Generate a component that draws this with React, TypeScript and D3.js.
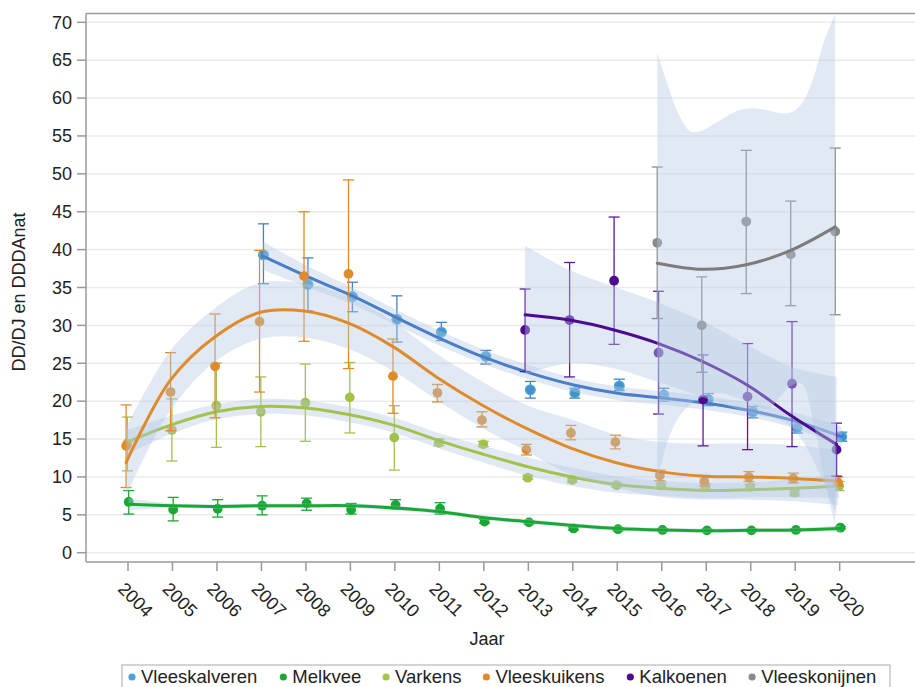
import React, { useMemo } from 'react';
import * as d3 from 'd3';

// categories
const seriesNames = ['Vleeskalveren', 'Melkvee', 'Varkens', 'Vleeskuikens', 'Kalkoenen', 'Vleeskonijnen'];
const tickYears = [2004, 2005, 2006, 2007, 2008, 2009, 2010, 2011, 2012, 2013, 2014, 2015, 2016, 2017, 2018, 2019, 2020];
const yTicks = [0, 5, 10, 15, 20, 25, 30, 35, 40, 45, 50, 55, 60, 65, 70];

const allYears = [2004, 2005, 2006, 2007, 2008, 2009, 2010, 2011, 2012, 2013, 2014, 2015, 2016, 2017, 2018, 2019, 2020];

// Vleeskalveren
const kalverenYears = [2007, 2008, 2009, 2010, 2011, 2012, 2013, 2014, 2015, 2016, 2017, 2018, 2019, 2020];
const kalverenValue = [39.3, 35.4, 33.8, 30.8, 29.1, 25.9, 21.5, 21.1, 22.0, 20.8, 20.2, 18.6, 16.5, 15.3];
const kalverenLow = [35.5, 31.9, 31.8, 27.8, 28.0, 24.9, 20.4, 20.4, 21.4, 20.0, 19.4, 17.8, 15.8, 14.7];
const kalverenHigh = [43.4, 38.9, 35.7, 33.9, 30.4, 26.7, 22.6, 21.7, 22.9, 21.7, 21.0, 19.3, 17.3, 15.9];
const kalverenFit = [39.1, 36.4, 33.9, 31.0, 28.2, 25.7, 23.7, 22.1, 21.0, 20.4, 19.7, 18.7, 17.3, 15.3];
const kalverenBandLow = [37.3, 35.0, 32.8, 30.0, 27.2, 24.8, 22.8, 21.2, 20.1, 19.5, 18.8, 17.8, 16.3, 14.0];
const kalverenBandHigh = [41.0, 37.8, 35.0, 32.0, 29.2, 26.7, 24.7, 23.0, 21.9, 21.3, 20.6, 19.7, 18.4, 16.6];

// Melkvee
const melkveeValue = [6.7, 5.7, 5.8, 6.2, 6.5, 5.7, 6.3, 5.8, 4.1, 4.0, 3.2, 3.1, 3.0, 2.95, 2.95, 3.0, 3.3];
const melkveeLow = [5.1, 4.2, 4.7, 5.0, 5.6, 5.1, 5.8, 5.1, 3.9, 3.8, 3.0, 2.9, 2.85, 2.8, 2.8, 2.85, 3.15];
const melkveeHigh = [8.2, 7.3, 7.0, 7.5, 7.2, 6.5, 7.0, 6.6, 4.4, 4.2, 3.4, 3.3, 3.15, 3.1, 3.1, 3.15, 3.45];
const melkveeFit = [6.4, 6.2, 6.1, 6.2, 6.2, 6.2, 5.9, 5.4, 4.6, 4.1, 3.6, 3.2, 3.0, 2.9, 2.95, 3.0, 3.2];
const melkveeBandLow = [5.6, 5.9, 5.8, 5.9, 5.9, 5.9, 5.6, 5.1, 4.3, 3.8, 3.3, 2.9, 2.7, 2.6, 2.65, 2.7, 2.8];
const melkveeBandHigh = [7.2, 6.5, 6.4, 6.5, 6.5, 6.5, 6.2, 5.7, 4.9, 4.4, 3.9, 3.5, 3.3, 3.2, 3.25, 3.3, 3.6];

// Varkens
const varkensValue = [14.4, 16.2, 19.4, 18.6, 19.8, 20.5, 15.2, 14.5, 14.3, 9.9, 9.6, 8.9, 8.85, 8.7, 8.7, 7.9, 8.8];
const varkensLow = [10.8, 12.1, 13.9, 14.0, 14.7, 15.8, 10.9, 14.1, 14.0, 9.7, 9.3, 8.7, 8.5, 8.4, 8.4, 7.5, 8.2];
const varkensHigh = [17.9, 20.3, 25.0, 23.2, 24.9, 25.1, 19.4, 15.0, 14.7, 10.2, 9.9, 9.2, 9.2, 9.1, 9.0, 8.3, 9.4];
const varkensFit = [14.6, 16.9, 18.6, 19.3, 19.1, 18.2, 16.8, 14.8, 13.0, 11.35, 10.0, 9.0, 8.5, 8.2, 8.3, 8.5, 8.8];
const varkensBandLow = [13.0, 15.7, 17.6, 18.3, 18.1, 17.2, 15.8, 13.8, 11.9, 10.15, 8.8, 7.9, 7.5, 7.2, 7.3, 7.3, 7.2];
const varkensBandHigh = [16.2, 18.1, 19.6, 20.3, 20.1, 19.2, 17.8, 15.8, 14.1, 12.55, 11.2, 10.1, 9.5, 9.2, 9.3, 9.7, 10.4];

// Vleeskuikens
const kuikensValue = [14.1, 21.2, 24.6, 30.5, 36.5, 36.8, 23.3, 21.1, 17.5, 13.6, 15.8, 14.6, 10.2, 9.4, 10.0, 9.8, 9.3];
const kuikensLow = [8.6, 16.1, 17.8, 21.2, 27.9, 24.3, 18.4, 19.9, 16.6, 12.9, 14.9, 13.7, 9.5, 8.8, 9.4, 9.2, 8.8];
const kuikensHigh = [19.5, 26.4, 31.5, 39.9, 45.0, 49.2, 28.2, 22.2, 18.6, 14.3, 16.8, 15.5, 10.9, 10.2, 10.7, 10.5, 10.0];
const kuikensFit = [11.9, 22.8, 28.5, 31.7, 31.9, 30.3, 27.2, 23.1, 19.5, 16.4, 13.8, 11.9, 10.7, 10.1, 10.0, 9.8, 9.45];
const kuikensBandLow = [7.5, 18.8, 25.2, 28.2, 28.4, 26.9, 24.0, 20.1, 16.5, 13.4, 10.3, 8.6, 7.4, 7.0, 7.0, 6.8, 6.3];
const kuikensBandHigh = [16.5, 26.7, 32.3, 35.6, 35.5, 33.8, 30.5, 26.2, 22.6, 19.5, 17.6, 15.6, 14.6, 14.4, 14.4, 14.2, 13.5];

// Kalkoenen
const kalkoenenYears = [2013, 2014, 2015, 2016, 2017, 2018, 2019, 2020];
const kalkoenenValue = [29.4, 30.7, 35.9, 26.4, 20.2, 20.6, 22.3, 13.6];
const kalkoenenLow = [23.9, 23.2, 27.5, 18.3, 14.1, 13.6, 14.0, 10.1];
const kalkoenenHigh = [34.8, 38.3, 44.3, 34.5, 26.1, 27.6, 30.5, 17.1];
const kalkoenenFit = [31.4, 30.7, 29.4, 27.6, 25.2, 22.1, 18.0, 14.3];
const kalkoenenBandLow = [23.5, 25.0, 24.3, 22.5, 20.5, 18.5, 16.5, 5.0];
const kalkoenenBandHigh = [40.5, 37.3, 35.1, 33.0, 30.5, 27.4, 24.5, 23.2];

// Vleeskonijnen
const konijnenYears = [2016, 2017, 2018, 2019, 2020];
const konijnenValue = [40.9, 30.0, 43.7, 39.4, 42.4];
const konijnenLow = [30.9, 23.8, 34.2, 32.6, 31.4];
const konijnenHigh = [50.9, 36.4, 53.1, 46.4, 53.4];
const konijnenFit = [38.2, 37.4, 38.0, 39.9, 43.0];
const konijnenBandYears = [2016, 2016.25, 2016.5, 2016.75, 2017, 2017.25, 2017.5, 2017.75, 2018, 2018.25, 2018.5, 2018.75, 2019, 2019.25, 2019.5, 2019.75, 2020];
const konijnenBandLow = [9.5, 15, 18, 19.6, 20.5, 21, 21, 20.5, 20, 19.3, 19, 20.5, 22, 22.3, 17.5, 10, 3.5];
const konijnenBandHigh = [66, 61.5, 57.6, 55.6, 55.7, 56.5, 57.4, 58.2, 58.6, 58.6, 58.4, 58.0, 58.1, 59.3, 62.5, 67.5, 71];

const colors: Record<string, { line: string; point: string; ring: string; err: string; legend: string }> = {
	Vleeskalveren: { line: '#4a7ec8', point: '#4690d2', ring: '#45b0c8', err: '#4a7ec8', legend: '#4f9fd8' },
	Melkvee: { line: '#1aa834', point: '#1aa834', ring: 'none', err: '#1aa834', legend: '#1aa834' },
	Varkens: { line: '#a3c24a', point: '#a3c24a', ring: 'none', err: '#a3c24a', legend: '#a5c44a' },
	Vleeskuikens: { line: '#e08b2b', point: '#e08b2b', ring: 'none', err: '#e08b2b', legend: '#e08b2b' },
	Kalkoenen: { line: '#4d0c8f', point: '#4d0c8f', ring: 'none', err: '#5a1a9a', legend: '#4d0c8f' },
	Vleeskonijnen: { line: '#7c7c7c', point: '#8a8a8a', ring: 'none', err: '#888888', legend: '#8a8a8a' },
};

const series = [
	{ name: 'Vleeskalveren', years: kalverenYears, value: kalverenValue, low: kalverenLow, high: kalverenHigh, fit: kalverenFit, bandYears: kalverenYears, bandLow: kalverenBandLow, bandHigh: kalverenBandHigh },
	{ name: 'Melkvee', years: allYears, value: melkveeValue, low: melkveeLow, high: melkveeHigh, fit: melkveeFit, bandYears: allYears, bandLow: melkveeBandLow, bandHigh: melkveeBandHigh },
	{ name: 'Varkens', years: allYears, value: varkensValue, low: varkensLow, high: varkensHigh, fit: varkensFit, bandYears: allYears, bandLow: varkensBandLow, bandHigh: varkensBandHigh },
	{ name: 'Vleeskuikens', years: allYears, value: kuikensValue, low: kuikensLow, high: kuikensHigh, fit: kuikensFit, bandYears: allYears, bandLow: kuikensBandLow, bandHigh: kuikensBandHigh },
	{ name: 'Kalkoenen', years: kalkoenenYears, value: kalkoenenValue, low: kalkoenenLow, high: kalkoenenHigh, fit: kalkoenenFit, bandYears: kalkoenenYears, bandLow: kalkoenenBandLow, bandHigh: kalkoenenBandHigh },
	{ name: 'Vleeskonijnen', years: konijnenYears, value: konijnenValue, low: konijnenLow, high: konijnenHigh, fit: konijnenFit, bandYears: konijnenBandYears, bandLow: konijnenBandLow, bandHigh: konijnenBandHigh },
];

const W = 915;
const H = 687;
const FONT = "'Liberation Sans', Arial, sans-serif";
const left = 86, top = 13.5, bottom = 562, right = 920;
const LEGEND_FONT = 18.5;

const App: React.FC = () => {
	const x = d3.scaleLinear().domain([2004, 2020]).range([128, 839.7]);
	const y = d3.scaleLinear().domain([0, 70]).range([552.7, 22.3]);
	const dodge = d3.scalePoint<string>().domain(seriesNames).range([2, -4.5]);

	// legend entries placed one after the other, using measured text widths
	const legendItems = useMemo(() => {
		const ctx = document.createElement('canvas').getContext('2d')!;
		ctx.font = `${LEGEND_FONT}px ${FONT}`;
		let cx = 132;
		return seriesNames.map((n) => {
			const item = { name: n, cx };
			cx += 9 + ctx.measureText(n).width * (19 / LEGEND_FONT) + 23;
			return item;
		});
	}, []);

	const band = s => {
		const data = s.bandYears.map((yr, i) => ({ yr, lo: s.bandLow[i], hi: s.bandHigh[i] }));
		const off = dodge(s.name) ?? 0;
		return d3.area<any>()
			.x(d => x(d.yr) + off)
			.y0(d => y(d.lo))
			.y1(d => y(d.hi))
			.curve(d3.curveCatmullRom)(data) ?? '';
	};

	const fitLine = s => {
		const off = dodge(s.name) ?? 0;
		return d3.line<number>()
			.x((_, i) => x(s.years[i]) + off)
			.y(d => y(d))
			.curve(d3.curveCatmullRom)(s.fit) ?? '';
	};

	return (
		<svg width={W} height={H} style={{ position: 'absolute', left: 0, top: 0, background: '#fff' }} fontFamily={FONT}>
			{/* grid */}
			{yTicks.map(t => (
				<line key={'g' + t} x1={left} x2={right} y1={y(t)} y2={y(t)} stroke="#ebebeb" strokeWidth={1.5} />
			))}
			{/* frame */}
			<line x1={left} x2={right} y1={top} y2={top} stroke="#9a9a9a" strokeWidth={1.5} />
			<line x1={left} x2={right} y1={bottom} y2={bottom} stroke="#9a9a9a" strokeWidth={1.5} />
			<line x1={left} x2={left} y1={top} y2={bottom} stroke="#9a9a9a" strokeWidth={1.5} />

			{/* y axis */}
			{yTicks.map(t => (
				<g key={'y' + t}>
					<line x1={77} x2={left} y1={y(t)} y2={y(t)} stroke="#9a9a9a" strokeWidth={1.5} />
					<text x={72} y={y(t)} dy="0.35em" textAnchor="end" fontSize={18} fill="#222">{t}</text>
				</g>
			))}
			{/* x axis */}
			{tickYears.map(t => (
				<g key={'x' + t}>
					<line x1={x(t)} x2={x(t)} y1={bottom} y2={571} stroke="#9a9a9a" strokeWidth={1.5} />
					<text transform={`translate(${x(t) - 11},590) rotate(45)`} fontSize={18} fill="#222">{t}</text>
				</g>
			))}
			<text x={487} y={645} textAnchor="middle" fontSize={18} fill="#222">Jaar</text>
			<text transform="translate(25,292) rotate(-90)" textAnchor="middle" fontSize={18} fill="#222">DD/DJ en DDDAnat</text>

			{/* series: error bars and points, then the confidence band, then the fitted curve */}
			{series.map(s => {
				const c = colors[s.name];
				const off = dodge(s.name) ?? 0;
				return (
					<g key={s.name}>
						{s.years.map((yr, i) => {
							const px = x(yr) + off;
							return (
								<g key={yr}>
									<line x1={px} x2={px} y1={y(s.low[i])} y2={y(s.high[i])} stroke={c.err} strokeWidth={1.3} />
									<line x1={px - 5.5} x2={px + 5.5} y1={y(s.low[i])} y2={y(s.low[i])} stroke={c.err} strokeWidth={1.3} />
									<line x1={px - 5.5} x2={px + 5.5} y1={y(s.high[i])} y2={y(s.high[i])} stroke={c.err} strokeWidth={1.3} />
									<circle cx={px} cy={y(s.value[i])} r={4.9} fill={c.point} stroke={c.ring} strokeWidth={1.2} />
								</g>
							);
						})}
						<path d={band(s)} fill="rgb(180,200,228)" fillOpacity={0.4} />
						<path d={fitLine(s)} fill="none" stroke={c.line} strokeWidth={3} strokeLinecap="round" />
					</g>
				);
			})}

			{/* legend */}
			<rect x={122} y={665} width={768} height={40} fill="#fff" stroke="#aaaaaa" strokeWidth={1} />
			{legendItems.map(it => (
				<g key={it.name}>
					<circle cx={it.cx} cy={677} r={3.6} fill={colors[it.name].legend} />
					<text x={it.cx + 9} y={682.5} fontSize={LEGEND_FONT} fill="#222">{it.name}</text>
				</g>
			))}
		</svg>
	);
};

export default App;
